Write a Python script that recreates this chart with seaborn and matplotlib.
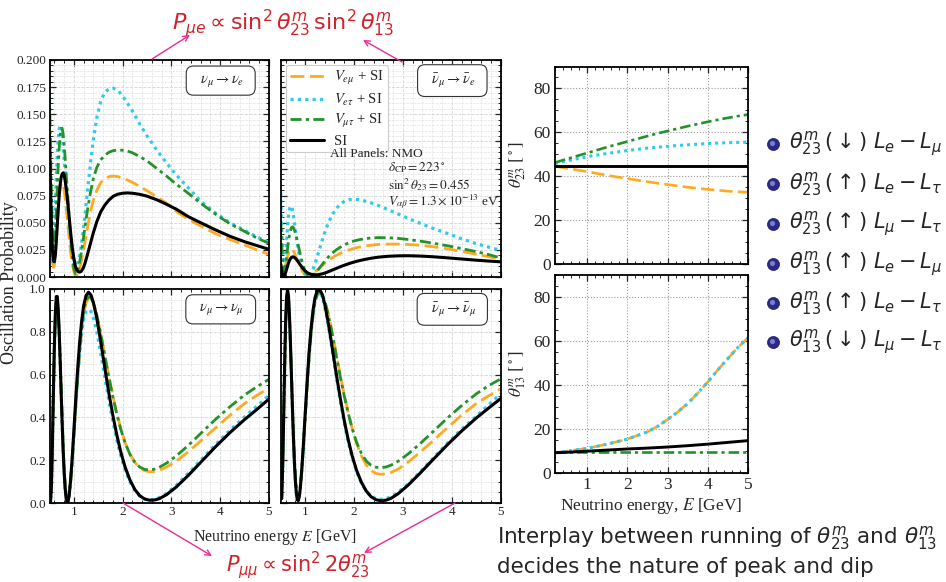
import matplotlib
matplotlib.use("Agg")
import matplotlib.pyplot as plt
from matplotlib.ticker import MultipleLocator, FormatStrFormatter, NullFormatter
import seaborn as sns

# ---------------- data ----------------
# energy grid for the appearance panels (GeV)
E_app = [0.50, 0.52, 0.54, 0.56, 0.58, 0.60, 0.62, 0.64, 0.66, 0.68, 0.70, 0.72, 0.74, 0.76,
         0.78, 0.80, 0.82, 0.85, 0.88, 0.91, 0.94, 0.97, 1.00, 1.03, 1.06, 1.09, 1.12, 1.15,
         1.19, 1.23, 1.28, 1.34, 1.40, 1.47, 1.55, 1.63, 1.72, 1.81, 1.90, 2.00, 2.10, 2.20,
         2.35, 2.50, 2.70, 2.90, 3.10, 3.35, 3.60, 3.90, 4.20, 4.50, 4.75, 5.00]

# nu_mu -> nu_e
Pme_SI = [0.131, 0.085, 0.048, 0.025, 0.015, 0.014, 0.020, 0.033, 0.048, 0.063, 0.076, 0.086, 0.092, 0.095,
          0.096, 0.094, 0.089, 0.079, 0.066, 0.052, 0.038, 0.026, 0.017, 0.010, 0.0065, 0.0048, 0.0045, 0.0052,
          0.008, 0.013, 0.021, 0.031, 0.041, 0.051, 0.060, 0.066, 0.071, 0.0745, 0.0763, 0.0772, 0.0775, 0.0772,
          0.0762, 0.0745, 0.0712, 0.0670, 0.0625, 0.0555, 0.0500, 0.0435, 0.0375, 0.0325, 0.0290, 0.0255]
Pme_emu = [0.105, 0.060, 0.030, 0.014, 0.009, 0.011, 0.020, 0.034, 0.050, 0.064, 0.075, 0.082, 0.086, 0.087,
           0.085, 0.080, 0.073, 0.060, 0.046, 0.032, 0.020, 0.011, 0.005, 0.002, 0.0018, 0.004, 0.008, 0.014,
           0.023, 0.033, 0.046, 0.060, 0.071, 0.080, 0.087, 0.0905, 0.0925, 0.093, 0.0925, 0.0912, 0.0893, 0.0872,
           0.0835, 0.0795, 0.0738, 0.0680, 0.0605, 0.0530, 0.0470, 0.0400, 0.0345, 0.0295, 0.0250, 0.0208]
Pme_etau = [0.075, 0.040, 0.020, 0.014, 0.022, 0.040, 0.064, 0.090, 0.112, 0.128, 0.137, 0.140, 0.137, 0.130,
            0.120, 0.108, 0.096, 0.078, 0.061, 0.046, 0.033, 0.023, 0.016, 0.012, 0.0115, 0.014, 0.020, 0.028,
            0.042, 0.058, 0.080, 0.105, 0.127, 0.147, 0.162, 0.170, 0.1735, 0.174, 0.172, 0.167, 0.160, 0.153,
            0.141, 0.130, 0.117, 0.105, 0.094, 0.082, 0.070, 0.059, 0.050, 0.043, 0.037, 0.0318]
Pme_mutau = [0.170, 0.120, 0.075, 0.042, 0.028, 0.028, 0.040, 0.060, 0.083, 0.104, 0.120, 0.131, 0.137, 0.137,
             0.132, 0.122, 0.110, 0.090, 0.070, 0.050, 0.032, 0.018, 0.008, 0.003, 0.003, 0.007, 0.014, 0.022,
             0.034, 0.047, 0.062, 0.078, 0.091, 0.101, 0.108, 0.112, 0.115, 0.1165, 0.117, 0.1168, 0.1160, 0.1145,
             0.111, 0.107, 0.100, 0.093, 0.0855, 0.077, 0.068, 0.058, 0.049, 0.042, 0.036, 0.031]

# anti-nu_mu -> anti-nu_e
Pmebar_SI = [0.012, 0.006, 0.002, 0.001, 0.002, 0.004, 0.007, 0.010, 0.013, 0.0153, 0.017, 0.018, 0.0185, 0.0185,
             0.018, 0.0173, 0.0163, 0.0145, 0.0125, 0.0105, 0.0087, 0.007, 0.0056, 0.0045, 0.0036, 0.003, 0.0025, 0.0022,
             0.002, 0.002, 0.0022, 0.0028, 0.0036, 0.0048, 0.0063, 0.0078, 0.0095, 0.011, 0.0124, 0.0138, 0.015, 0.016,
             0.0173, 0.0183, 0.0191, 0.0195, 0.0196, 0.0193, 0.0187, 0.0177, 0.0166, 0.0155, 0.0147, 0.0140]
Pmebar_emu = [0.012, 0.006, 0.003, 0.004, 0.007, 0.011, 0.015, 0.019, 0.022, 0.0243, 0.0255, 0.0258, 0.0253, 0.024,
              0.0222, 0.020, 0.0178, 0.0145, 0.0112, 0.0083, 0.0058, 0.0038, 0.0024, 0.0016, 0.0013, 0.0015, 0.002, 0.0028,
              0.0042, 0.0058, 0.0078, 0.0102, 0.0126, 0.015, 0.0176, 0.0198, 0.0218, 0.0236, 0.025, 0.0264, 0.0275, 0.0284,
              0.0294, 0.0300, 0.0303, 0.0303, 0.0300, 0.0293, 0.0280, 0.0260, 0.0236, 0.0210, 0.0188, 0.0165]
Pmebar_etau = [0.078, 0.045, 0.020, 0.009, 0.010, 0.020, 0.033, 0.046, 0.056, 0.063, 0.0655, 0.065, 0.062, 0.0565,
               0.050, 0.0435, 0.037, 0.028, 0.020, 0.0135, 0.0082, 0.0045, 0.002, 0.0008, 0.0006, 0.0012, 0.003, 0.0058,
               0.0105, 0.016, 0.0235, 0.0325, 0.041, 0.0495, 0.057, 0.0628, 0.0672, 0.0700, 0.0713, 0.0717, 0.0713, 0.0703,
               0.0683, 0.0658, 0.0620, 0.0581, 0.0542, 0.0495, 0.0451, 0.0403, 0.0352, 0.0308, 0.0276, 0.0245]
Pmebar_mutau = [0.052, 0.030, 0.014, 0.006, 0.006, 0.011, 0.018, 0.026, 0.033, 0.039, 0.043, 0.0455, 0.0462, 0.0455,
                0.0435, 0.0405, 0.037, 0.031, 0.025, 0.019, 0.0135, 0.009, 0.0055, 0.003, 0.0015, 0.0008, 0.0008, 0.0014,
                0.0028, 0.0047, 0.0075, 0.011, 0.0145, 0.0182, 0.0218, 0.0248, 0.0275, 0.0298, 0.0316, 0.0332, 0.0343, 0.0352,
                0.0360, 0.0363, 0.0362, 0.0356, 0.0346, 0.0331, 0.0313, 0.0289, 0.0262, 0.0234, 0.0207, 0.0176]

# energy grid for the disappearance panels (GeV)
E_dis = [0.50, 0.52, 0.54, 0.56, 0.58, 0.60, 0.62, 0.64, 0.66, 0.68, 0.70, 0.72, 0.74, 0.76, 0.78,
         0.80, 0.82, 0.84, 0.86, 0.88, 0.90, 0.93, 0.96, 1.00, 1.04, 1.08, 1.12, 1.16, 1.20, 1.25,
         1.30, 1.35, 1.40, 1.46, 1.52, 1.58, 1.65, 1.72, 1.80, 1.88, 1.96, 2.05, 2.15, 2.25, 2.35,
         2.45, 2.55, 2.65, 2.75, 2.90, 3.10, 3.35, 3.60, 3.90, 4.20, 4.50, 4.75, 5.00]

# nu_mu -> nu_mu
Pmm_SI = [0.05, 0.00, 0.08, 0.28, 0.52, 0.74, 0.89, 0.965, 0.965, 0.90, 0.79, 0.655, 0.51, 0.37, 0.245,
          0.145, 0.07, 0.023, 0.003, 0.006, 0.03, 0.10, 0.193, 0.34, 0.495, 0.635, 0.757, 0.852, 0.922, 0.97,
          0.985, 0.972, 0.937, 0.874, 0.796, 0.71, 0.608, 0.51, 0.408, 0.318, 0.24, 0.168, 0.107, 0.063, 0.034,
          0.019, 0.013, 0.014, 0.02, 0.039, 0.075, 0.13, 0.19, 0.262, 0.329, 0.39, 0.437, 0.486]
Pmm_emu = [0.05, 0.01, 0.09, 0.28, 0.51, 0.72, 0.87, 0.945, 0.95, 0.89, 0.79, 0.66, 0.52, 0.385, 0.26,
           0.16, 0.085, 0.035, 0.012, 0.012, 0.03, 0.09, 0.175, 0.31, 0.455, 0.59, 0.71, 0.81, 0.885, 0.935,
           0.955, 0.952, 0.93, 0.885, 0.825, 0.757, 0.672, 0.59, 0.50, 0.42, 0.35, 0.283, 0.228, 0.19, 0.165,
           0.151, 0.146, 0.147, 0.153, 0.168, 0.196, 0.24, 0.29, 0.35, 0.41, 0.465, 0.503, 0.538]
Pmm_etau = [0.05, 0.00, 0.08, 0.27, 0.50, 0.71, 0.85, 0.93, 0.94, 0.88, 0.78, 0.65, 0.51, 0.37, 0.245,
            0.145, 0.07, 0.025, 0.005, 0.008, 0.03, 0.095, 0.185, 0.32, 0.465, 0.595, 0.705, 0.795, 0.86, 0.895,
            0.905, 0.895, 0.865, 0.81, 0.74, 0.66, 0.565, 0.475, 0.38, 0.295, 0.222, 0.155, 0.098, 0.058, 0.032,
            0.018, 0.014, 0.017, 0.025, 0.045, 0.083, 0.14, 0.20, 0.272, 0.34, 0.402, 0.452, 0.503]
Pmm_mutau = [0.05, 0.01, 0.09, 0.28, 0.51, 0.72, 0.87, 0.95, 0.955, 0.895, 0.795, 0.665, 0.525, 0.39, 0.265,
             0.165, 0.09, 0.04, 0.015, 0.014, 0.032, 0.092, 0.178, 0.315, 0.46, 0.597, 0.717, 0.818, 0.895, 0.945,
             0.965, 0.958, 0.935, 0.888, 0.825, 0.755, 0.668, 0.585, 0.495, 0.415, 0.345, 0.28, 0.227, 0.19, 0.168,
             0.157, 0.154, 0.158, 0.167, 0.186, 0.22, 0.27, 0.325, 0.39, 0.45, 0.505, 0.543, 0.578]

# anti-nu_mu -> anti-nu_mu
Pmmbar_SI = [0.045, 0.02, 0.165, 0.395, 0.64, 0.84, 0.962, 0.997, 0.966, 0.872, 0.742, 0.592, 0.443, 0.307, 0.192,
             0.104, 0.045, 0.015, 0.011, 0.029, 0.067, 0.152, 0.257, 0.412, 0.565, 0.703, 0.814, 0.899, 0.958, 0.994,
             0.997, 0.974, 0.93, 0.858, 0.776, 0.687, 0.584, 0.488, 0.385, 0.297, 0.222, 0.154, 0.097, 0.056, 0.029,
             0.015, 0.011, 0.013, 0.021, 0.043, 0.082, 0.139, 0.199, 0.27, 0.336, 0.397, 0.443, 0.488]
Pmmbar_emu = [0.045, 0.025, 0.165, 0.39, 0.63, 0.83, 0.95, 0.985, 0.955, 0.865, 0.74, 0.595, 0.45, 0.318, 0.205,
              0.118, 0.058, 0.025, 0.018, 0.033, 0.068, 0.148, 0.248, 0.395, 0.545, 0.68, 0.79, 0.878, 0.94, 0.98,
              0.99, 0.975, 0.945, 0.895, 0.835, 0.765, 0.68, 0.595, 0.505, 0.425, 0.35, 0.28, 0.22, 0.178, 0.152,
              0.138, 0.134, 0.136, 0.142, 0.158, 0.19, 0.237, 0.288, 0.35, 0.41, 0.465, 0.50, 0.534]
Pmmbar_etau = [0.045, 0.02, 0.16, 0.39, 0.63, 0.83, 0.95, 0.985, 0.955, 0.862, 0.733, 0.585, 0.438, 0.303, 0.19,
               0.103, 0.045, 0.016, 0.013, 0.031, 0.069, 0.152, 0.255, 0.408, 0.558, 0.694, 0.803, 0.886, 0.943, 0.977,
               0.982, 0.965, 0.92, 0.848, 0.765, 0.675, 0.572, 0.476, 0.374, 0.288, 0.214, 0.148, 0.093, 0.055, 0.031,
               0.02, 0.017, 0.02, 0.029, 0.05, 0.088, 0.145, 0.205, 0.277, 0.345, 0.405, 0.458, 0.51]
Pmmbar_mutau = [0.045, 0.025, 0.165, 0.39, 0.63, 0.83, 0.95, 0.985, 0.957, 0.868, 0.745, 0.602, 0.458, 0.327, 0.215,
                0.128, 0.068, 0.034, 0.025, 0.04, 0.074, 0.152, 0.25, 0.395, 0.543, 0.676, 0.786, 0.874, 0.937, 0.977,
                0.99, 0.975, 0.945, 0.893, 0.83, 0.758, 0.672, 0.588, 0.50, 0.42, 0.35, 0.285, 0.232, 0.196, 0.176,
                0.167, 0.165, 0.168, 0.176, 0.195, 0.228, 0.277, 0.33, 0.395, 0.455, 0.51, 0.548, 0.58]

# running mixing angles in matter (degrees)
E_th = [0.2, 0.5, 1.0, 1.5, 2.0, 2.5, 2.75, 3.0, 3.25, 3.5, 3.75, 4.0, 4.25, 4.5, 4.75, 5.0]
th23_SI = [44.6] * 16
th23_emu = [44.5, 43.6, 42.1, 40.4, 38.9, 37.5, 36.8, 36.2, 35.6, 35.0, 34.5, 34.0, 33.6, 33.2, 32.9, 32.7]
th23_etau = [45.8, 47.0, 48.9, 50.4, 51.7, 52.8, 53.2, 53.6, 54.0, 54.3, 54.6, 54.9, 55.1, 55.3, 55.4, 55.5]
th23_mutau = [46.2, 47.9, 50.6, 53.3, 55.8, 58.3, 59.5, 60.6, 61.7, 62.8, 63.8, 64.8, 65.7, 66.6, 67.4, 68.1]
th13_SI = [9.1, 9.3, 9.8, 10.3, 10.8, 11.2, 11.45, 11.7, 12.0, 12.3, 12.65, 13.0, 13.4, 13.8, 14.2, 14.6]
th13_emu = [9.1, 9.8, 11.1, 13.0, 15.3, 18.6, 21.1, 24.2, 27.6, 31.5, 36.2, 41.3, 46.8, 52.0, 57.0, 61.4]
th13_etau = [9.1, 9.8, 11.1, 13.0, 15.3, 18.6, 21.1, 24.2, 27.6, 31.5, 36.2, 41.3, 46.8, 52.0, 57.0, 61.4]
th13_mutau = [9.4] * 16

legend_labels = [r"$V_{e\mu}$ + SI", r"$V_{e\tau}$ + SI", r"$V_{\mu\tau}$ + SI", "SI"]
channel_labels = [r"$\nu_\mu \rightarrow \nu_e$", r"$\bar{\nu}_\mu \rightarrow \bar{\nu}_e$",
                  r"$\nu_\mu \rightarrow \nu_\mu$", r"$\bar{\nu}_\mu \rightarrow \bar{\nu}_\mu$"]
bullet_labels = [r"$\theta^m_{23}\,(\downarrow)\ L_e - L_\mu$",
                 r"$\theta^m_{23}\,(\uparrow)\ L_e - L_\tau$",
                 r"$\theta^m_{23}\,(\uparrow)\ L_\mu - L_\tau$",
                 r"$\theta^m_{13}\,(\uparrow)\ L_e - L_\mu$",
                 r"$\theta^m_{13}\,(\uparrow)\ L_e - L_\tau$",
                 r"$\theta^m_{13}\,(\downarrow)\ L_\mu - L_\tau$"]

# ---------------- style ----------------
sns.set_style("ticks")
plt.rcParams.update({
    "font.family": ["Liberation Serif", "DejaVu Serif"],
    "mathtext.fontset": "stix",
    "xtick.direction": "in", "ytick.direction": "in",
    "xtick.top": True, "ytick.right": True,
    "xtick.major.size": 4.5, "ytick.major.size": 4.5,
    "xtick.minor.size": 2.5, "ytick.minor.size": 2.5,
    "xtick.major.width": 0.9, "ytick.major.width": 0.9,
    "xtick.minor.width": 0.7, "ytick.minor.width": 0.7,
    "axes.linewidth": 1.3, "axes.edgecolor": "black",
})

C_EMU, C_ETAU, C_MUTAU, C_SI = "#FFA91F", "#2ECBEB", "#23922A", "black"
ST_EMU = (0, (5, 2))
ST_ETAU = (0, (1, 1.3))
ST_MUTAU = (0, (4, 1.5, 1.2, 1.5))
RED = "#D0232B"
PINK = "#EC2A93"

W, H = 946, 582
fig = plt.figure(figsize=(W / 100, H / 100), dpi=100)


def box(x0, y0, x1, y1):
    return [x0 / W, 1 - y1 / H, (x1 - x0) / W, (y1 - y0) / H]


ax_tl = fig.add_axes(box(49.5, 60, 269, 277))
ax_tr = fig.add_axes(box(280.7, 60, 500.7, 277))
ax_bl = fig.add_axes(box(49.5, 289, 269, 503))
ax_br = fig.add_axes(box(280.7, 289, 500.7, 503))
ax_r1 = fig.add_axes(box(555, 66.5, 748, 264))
ax_r2 = fig.add_axes(box(555, 275, 748, 472.7))


def draw_four(ax, E, emu, etau, mutau, si, lw=2.0):
    sns.lineplot(x=E, y=emu, ax=ax, color=C_EMU, lw=lw, linestyle=ST_EMU)
    sns.lineplot(x=E, y=etau, ax=ax, color=C_ETAU, lw=lw + 0.3, linestyle=ST_ETAU)
    sns.lineplot(x=E, y=mutau, ax=ax, color=C_MUTAU, lw=lw, linestyle=ST_MUTAU)
    sns.lineplot(x=E, y=si, ax=ax, color=C_SI, lw=lw + 0.2, linestyle="-")


draw_four(ax_tl, E_app, Pme_emu, Pme_etau, Pme_mutau, Pme_SI)
draw_four(ax_tr, E_app, Pmebar_emu, Pmebar_etau, Pmebar_mutau, Pmebar_SI)
draw_four(ax_bl, E_dis, Pmm_emu, Pmm_etau, Pmm_mutau, Pmm_SI)
draw_four(ax_br, E_dis, Pmmbar_emu, Pmmbar_etau, Pmmbar_mutau, Pmmbar_SI)
draw_four(ax_r1, E_th, th23_emu, th23_etau, th23_mutau, th23_SI, lw=1.9)
draw_four(ax_r2, E_th, th13_emu, th13_etau, th13_mutau, th13_SI, lw=1.9)

# probability panels
for i, ax in enumerate([ax_tl, ax_tr, ax_bl, ax_br]):
    top = i < 2
    ax.set_xlim(0.5, 5)
    ax.set_ylim(0, 0.2 if top else 1.0)
    ax.xaxis.set_major_locator(MultipleLocator(1))
    ax.xaxis.set_minor_locator(MultipleLocator(0.2))
    if top:
        ax.yaxis.set_major_locator(MultipleLocator(0.025))
        ax.yaxis.set_minor_locator(MultipleLocator(0.005))
        ax.yaxis.set_major_formatter(FormatStrFormatter("%.3f"))
    else:
        ax.yaxis.set_major_locator(MultipleLocator(0.2))
        ax.yaxis.set_minor_locator(MultipleLocator(0.05))
        ax.yaxis.set_major_formatter(FormatStrFormatter("%.1f"))
    ax.grid(which="major", color="#d4d4d4", ls="--", lw=0.6)
    ax.grid(which="minor", color="#e2e2e2", ls="--", lw=0.5)
    ax.set_axisbelow(True)
    ax.tick_params(which="both", labelsize=9.5, pad=2.5)
    ax.set_xlabel("")
    ax.set_ylabel("")
    if top:
        ax.xaxis.set_major_formatter(NullFormatter())
    if i % 2 == 1:
        ax.yaxis.set_major_formatter(NullFormatter())
    ax.text(0.78, 0.905, "  " + channel_labels[i] + "  ", transform=ax.transAxes,
            ha="center", va="center", fontsize=10.5,
            bbox=dict(boxstyle="round,pad=0.45,rounding_size=0.5", fc="white", ec="#333333", lw=0.8))

# legend in the anti-neutrino appearance panel
handles = ax_tr.get_lines()[:4]
leg = ax_tr.legend(handles, legend_labels, loc="upper left", fontsize=10.5, frameon=True, fancybox=True,
                   edgecolor="#cccccc", framealpha=1.0, handlelength=2.3, handletextpad=0.7,
                   labelspacing=0.3, borderpad=0.3, borderaxespad=0.35)
leg.get_frame().set_linewidth(0.8)

# mixing-angle panels
for ax, lab in [(ax_r1, r"$\theta_{23}^m\ [^\circ]$"), (ax_r2, r"$\theta_{13}^m\ [^\circ]$")]:
    ax.set_xlim(0.2, 5)
    ax.set_ylim(0, 90)
    ax.xaxis.set_major_locator(MultipleLocator(1))
    ax.xaxis.set_minor_locator(MultipleLocator(0.2))
    ax.yaxis.set_major_locator(MultipleLocator(20))
    ax.yaxis.set_minor_locator(MultipleLocator(5))
    ax.grid(which="major", color="#9a9a9a", ls=":", lw=0.8)
    ax.set_axisbelow(True)
    ax.tick_params(which="both", labelsize=12.5, pad=3)
    ax.set_xlabel("")
    ax.set_ylabel(lab, fontsize=12.5)
    ax.yaxis.set_label_coords(-0.14, 0.5)
ax_r1.xaxis.set_major_formatter(NullFormatter())
ax_r2.set_xlabel(r"Neutrino energy, $E$ [GeV]", fontsize=12.5, labelpad=2)

# overlay in pixel coordinates for text and arrows
ov = fig.add_axes([0, 0, 1, 1], zorder=10)
ov.set_xlim(0, W)
ov.set_ylim(H, 0)
ov.axis("off")

ov.text(10, 283, "Oscillation Probability", rotation=90, ha="center", va="center", fontsize=13)
ov.text(275, 537, r"Neutrino energy $E$ [GeV]", ha="center", va="center", fontsize=11.5)

params = [(330, 154, "All Panels: NMO"),
          (388, 168, r"$\delta_{\rm CP} = 223^\circ$"),
          (388, 185, r"$\sin^2\theta_{23} = 0.455$"),
          (388, 202, r"$V_{\alpha\beta} = 1.3\times10^{-13}$ eV")]
for x, y, s in params:
    ov.text(x, y, s, ha="left", va="center", fontsize=9.5)

ov.text(283, 23, r"$P_{\mu e} \propto \sin^2\theta^m_{23}\,\sin^2\theta^m_{13}$", ha="center", va="center",
        fontsize=16, color=RED, math_fontfamily="dejavusans")
ov.text(298, 565, r"$P_{\mu\mu} \propto \sin^2 2\theta^m_{23}$", ha="center", va="center",
        fontsize=15, color=RED, math_fontfamily="dejavusans")

arrow_kw = dict(arrowstyle="->", color=PINK, lw=1.0, shrinkA=0, shrinkB=0, mutation_scale=10)
for tail, head in [((152, 59), (190, 35)), ((402, 62), (363, 40)),
                   ((123, 503), (212, 556)), ((455, 503), (364, 553))]:
    ov.annotate("", xy=head, xytext=tail, arrowprops=arrow_kw)

bullet_y = [144, 184, 224, 264, 303, 342]
ov.scatter([773] * 6, bullet_y, s=75, color="#2A2A86", edgecolor="#1C1C5E", lw=0.5, zorder=3)
ov.scatter([771.5] * 6, [y - 1.5 for y in bullet_y], s=14, color="#7C7CD0", lw=0, zorder=4)
for y, s in zip(bullet_y, bullet_labels):
    ov.text(789, y, s, ha="left", va="center", fontsize=15, math_fontfamily="dejavusans")

ov.text(497, 538, r"Interplay between running of $\theta^m_{23}$ and $\theta^m_{13}$", ha="left", va="center",
        fontsize=15.5, family="DejaVu Sans", math_fontfamily="dejavusans")
ov.text(497, 567, "decides the nature of peak and dip", ha="left", va="center",
        fontsize=15.5, family="DejaVu Sans")

fig.savefig("out.png", dpi=100)
